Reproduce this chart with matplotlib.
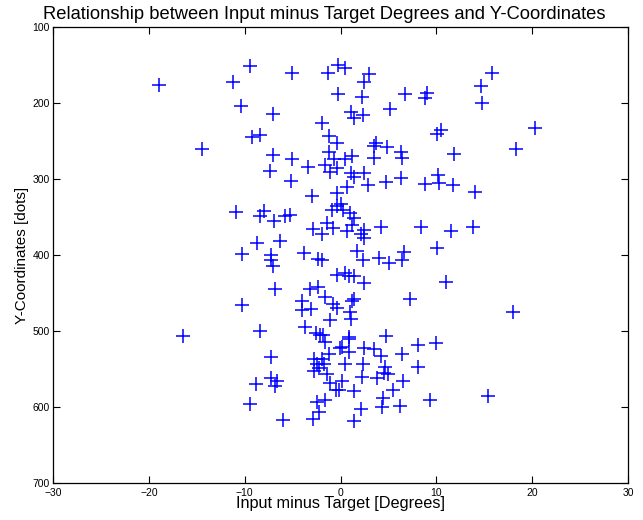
import matplotlib
matplotlib.use("Agg")
import matplotlib.pyplot as plt

plt.rcParams['font.family'] = ['Liberation Sans', 'DejaVu Sans']

# Input minus Target [Degrees]
x_vals = [
    -18.9, -9.4, -11.25, -5.1, -1.3, -0.3, -0.3, -10.35, -7.0, -1.95, -1.2, -0.35,
    -9.2, -8.36, -14.5, -7.0, -5.05, -3.4, -1.6, -1.15, -0.7, -0.35, -1.05, -7.35,
    -5.2, -2.95, -0.35,
    0.5, 2.96, 2.4, 2.2, 6.7, 9.06, 8.8, 15.8, 14.66, 14.77, 5.2, 1.05, 1.46, 2.33,
    10.45, 10.1, 20.3, 18.3, 11.85, 3.7, 3.5, 4.9, 6.3, 6.45, 0.5, 1.2, 3.5, 1.05,
    1.4, 2.5, 6.35, 4.7, 2.86, 0.7, 8.8, 10.2, 10.3, 11.7, 14.0,
    -0.35, -0.87, -10.87, -7.94, -8.43, -6.9, -5.75, -5.3, -1.46, -0.77, -2.9, -1.9,
    -8.7, -6.27, -10.24, -7.3, -7.3, -7.0, -3.8, -2.33, -1.9, -0.4, -6.8, -3.2, -2.33,
    -1.64, -4.0, -4.0, -3.06, -0.77, -0.35, -10.27, -1.1, -3.66, -8.36, -2.54, -2.1,
    -1.8, -16.4,
    0.0, 0.28, 0.94, 1.4, 0.7, 1.2, 2.43, 2.43, 2.1, 4.18, 8.4, 11.56, 13.86, 10.1,
    1.74, 2.37, 4.0, 5.05, 6.6, 6.45, 0.52, 0.87, 1.46, 2.43, 11.0, 1.4, 1.2, 7.2,
    0.94, 1.1, 18.0, 0.87, 4.7,
    -1.57, -0.07, -7.25, -2.8, -1.9, -1.2, -2.4, -2.2, -1.67, -2.8, -1.4, -7.3, -6.6,
    -6.8, -8.78, -1.05, -0.5, -9.4, -2.4, -1.57, -2.26, -2.9, -6.0,
    0.87, 0.18, 0.87, 2.43, 3.48, 4.18, 6.37, 8.1, 10.0, 8.1, 0.42, 2.37, 2.26, 0.18,
    -0.18, 1.46, 3.8, 4.5, 5.0, 4.6, 6.55, 5.5, 4.4, 4.35, 6.2, 9.33, 15.4, 2.16, 1.4,
]

# Y-Coordinates [dots]
y_vals = [
    176, 151, 172, 160, 161, 150, 188, 204, 215, 226, 244, 253,
    245, 242, 261, 269, 274, 284, 281, 264, 273, 286, 291, 289,
    303, 322, 319,
    154, 162, 172, 192, 188, 187, 193, 161, 177, 200, 208, 212, 220, 216,
    236, 241, 233, 260, 267, 253, 256, 258, 264, 272, 273, 270, 272, 292,
    297, 292, 299, 304, 308, 311, 306, 295, 305, 308, 317,
    335, 341, 344, 342, 349, 355, 349, 348, 358, 364, 366, 373,
    384, 381, 399, 400, 407, 415, 397, 405, 407, 426, 445, 445, 442,
    455, 461, 473, 471, 465, 470, 466, 486, 495, 500, 502, 505,
    505, 507,
    333, 341, 345, 351, 369, 361, 367, 377, 372, 363, 363, 368, 363, 391,
    395, 406, 404, 410, 396, 406, 424, 427, 428, 437, 435, 458, 461, 458,
    475, 484, 475, 508, 507,
    515, 522, 534, 537, 537, 530, 544, 549, 543, 553, 557, 562, 566,
    573, 570, 568, 577, 596, 594, 591, 607, 616, 617,
    511, 521, 527, 522, 524, 533, 530, 519, 516, 547, 544, 544, 560, 566,
    578, 579, 562, 555, 557, 548, 566, 577, 588, 600, 599, 591, 585, 603, 618,
]

x_ticks = [-30, -20, -10, 0, 10, 20, 30]
y_ticks = [100, 200, 300, 400, 500, 600, 700]

fig = plt.figure(figsize=(6.43, 5.2), dpi=100)
ax = fig.add_axes([0.0824, 0.0712, 0.8943, 0.8768])

ax.plot(x_vals, y_vals, linestyle='none', marker='+', color='#0000ff',
        markersize=10, markeredgewidth=1.1)

ax.set_xlim(-30, 30)
ax.set_ylim(700, 100)
ax.set_xticks(x_ticks)
ax.set_yticks(y_ticks)
ax.tick_params(direction='in', top=True, right=True, length=5, width=0.8,
               labelsize=7.5)
ax.tick_params(axis='x', pad=3.5)
ax.tick_params(axis='y', pad=2.5)
for s in ax.spines.values():
    s.set_linewidth(0.9)

fig.text(0.505, 0.964, 'Relationship between Input minus Target Degrees and Y-Coordinates',
         fontsize=13.2, ha='center', va='baseline')
ax.set_xlabel('Input minus Target [Degrees]', fontsize=11.7, labelpad=-1)
ax.set_ylabel('Y-Coordinates [dots]', fontsize=11, labelpad=2)

fig.savefig('out.png', dpi=100)
